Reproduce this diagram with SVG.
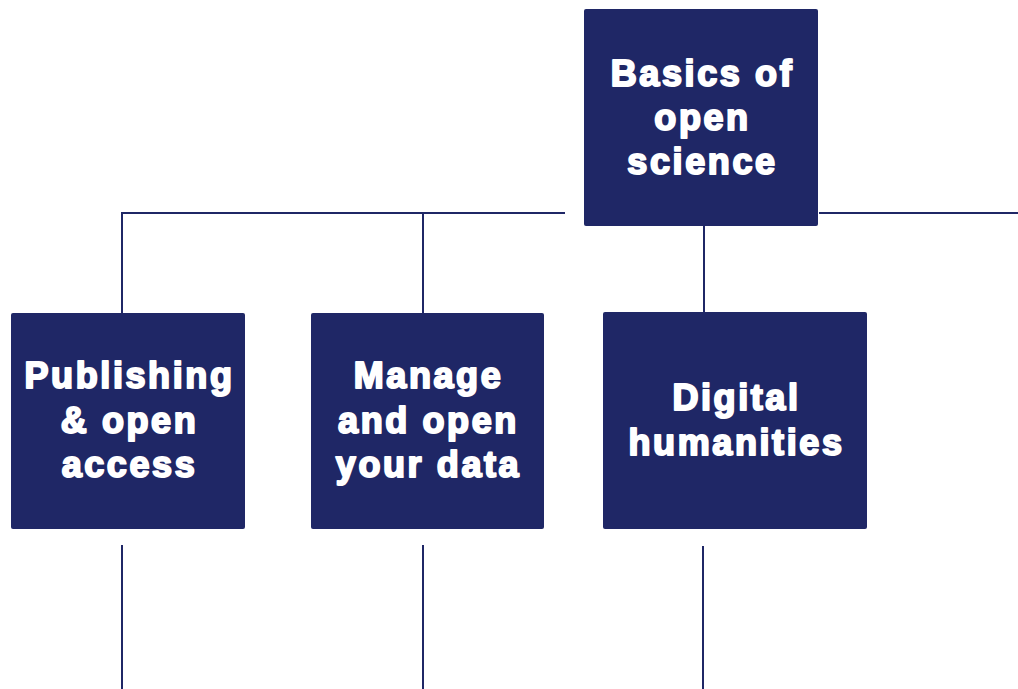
<svg xmlns="http://www.w3.org/2000/svg" width="1018" height="689" viewBox="0 0 1018 689">
<style>
.box{fill:#1f2766;}
.t{font-family:"Liberation Sans",Arial,sans-serif;font-weight:bold;font-size:36px;fill:#fff;stroke:#fff;stroke-width:2;stroke-linejoin:round;letter-spacing:2.6px;text-anchor:middle;}
.c{stroke:#1f2766;stroke-width:2;fill:none;}
</style>
<rect width="1018" height="689" fill="#fff"/>
<g id="connectors">
<path class="c" d="M122,313 V213 H565"/>
<path class="c" d="M423,213 V313"/>
<path class="c" d="M819,213 H1018"/>
<path class="c" d="M704,226 V312"/>
<path class="c" d="M122,545 V689"/>
<path class="c" d="M423,545 V689"/>
<path class="c" d="M703,546 V689"/>
</g>
<g id="basics">
<rect class="box" x="584" y="9" width="234" height="217" rx="2"/>
<text class="t" x="702.5" y="86">Basics of</text>
<text class="t" x="702.5" y="130">open</text>
<text class="t" x="702.5" y="174">science</text>
</g>
<g id="publishing">
<rect class="box" x="11" y="313" width="234" height="216" rx="2"/>
<text class="t" x="129.5" y="388">Publishing</text>
<text class="t" x="129.5" y="433">&amp; open</text>
<text class="t" x="129.5" y="477">access</text>
</g>
<g id="manage">
<rect class="box" x="311" y="313" width="233" height="216" rx="2"/>
<text class="t" x="428.5" y="388">Manage</text>
<text class="t" x="428.5" y="433">and open</text>
<text class="t" x="428.5" y="477">your data</text>
</g>
<g id="digital">
<rect class="box" x="603" y="312" width="264" height="217" rx="2"/>
<text class="t" x="736.5" y="410">Digital</text>
<text class="t" x="736.5" y="455">humanities</text>
</g>
</svg>
